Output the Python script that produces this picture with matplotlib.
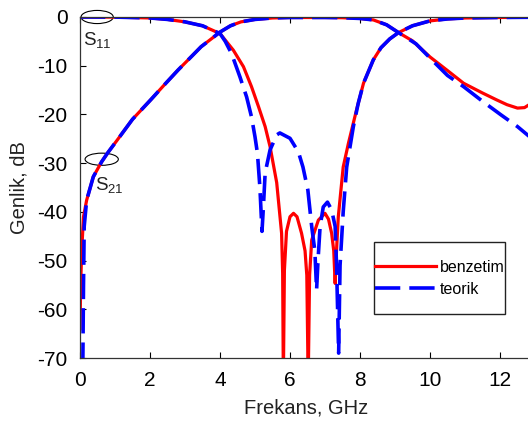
import matplotlib
matplotlib.use('Agg')
import matplotlib.pyplot as plt
from matplotlib.patches import Ellipse, Rectangle

plt.rcParams['font.family'] = ['Liberation Sans', 'DejaVu Sans']
plt.rcParams['mathtext.fontset'] = 'custom'
plt.rcParams['mathtext.rm'] = 'Liberation Sans'
plt.rcParams['axes.unicode_minus'] = False

# S11, benzetim (simulation)
s11_sim_f = [0, 1, 2, 2.5, 3.0, 3.5, 4.0, 4.38, 4.67, 4.9, 5.1, 5.29, 5.43, 5.62, 5.76,
             5.79, 5.81, 5.84, 5.9, 6.0, 6.1, 6.2, 6.33, 6.43, 6.48, 6.52, 6.56, 6.62, 6.81,
             7.0, 7.1, 7.19, 7.25, 7.29, 7.33, 7.38, 7.52, 7.67, 7.9, 8.1, 8.38, 8.6, 8.85,
             9.1, 9.5, 10.0, 10.5, 11.0, 12.0, 13.0]
s11_sim_db = [0, -0.02, -0.2, -0.5, -1.0, -1.8, -3.4, -6.8, -10.2, -14.3, -18.4, -22.5,
              -26.6, -34, -44.4, -52.6, -75, -52, -44, -41, -40.3, -41, -44.4, -48, -53, -75,
              -53, -45.8, -41.7, -40.3, -41.5, -44.4, -48, -54.7, -47.8, -41, -30.8, -25.9,
              -19.1, -13.6, -8.8, -6.3, -4.5, -3.2, -1.8, -0.8, -0.4, -0.2, -0.1, -0.05]

# S21, benzetim
s21_sim_f = [0, 0.02, 0.05, 0.1, 0.19, 0.38, 0.62, 0.8, 1.06, 1.5, 2.02, 2.4, 2.8, 3.2,
             3.46, 3.75, 4.0, 4.3, 4.6, 5.0, 5.5, 6.0, 7.0, 7.5, 8.0, 8.38, 8.76, 9.1, 9.5,
             10.0, 10.5, 10.96, 11.5, 11.9, 12.2, 12.5, 12.7, 12.9, 13.0]
s21_sim_db = [-64, -54.6, -47.8, -41, -37.6, -32.8, -29.7, -27.8, -25.3, -21, -17, -14,
              -10.9, -8, -6.1, -4.5, -3.1, -1.8, -1.0, -0.5, -0.2, -0.1, -0.1, -0.15, -0.3,
              -0.6, -1.6, -3.2, -4.9, -8.2, -11, -13.6, -15.6, -17, -18, -18.7, -18.6, -17.7,
              -17]

# S11, teorik (theory)
s11_th_f = [0, 1, 2, 2.5, 3.0, 3.5, 4.0, 4.15, 4.33, 4.57, 4.76, 4.9, 5.0, 5.07, 5.14, 5.2,
            5.24, 5.29, 5.43, 5.62, 5.71, 6.0, 6.24, 6.37, 6.51, 6.62, 6.71, 6.76, 6.8, 6.86,
            6.95, 7.07, 7.19, 7.29, 7.33, 7.39, 7.43, 7.52, 7.62, 7.81, 7.95, 8.1, 8.38,
            8.6, 8.85, 9.1, 9.5, 10.0, 10.5, 11.0, 12.0, 13.0]
s11_th_db = [0, -0.02, -0.2, -0.5, -1.0, -1.8, -3.4, -5, -7.5, -12.3, -16.4, -20.5, -24.6,
             -28, -35, -44, -39, -32, -27.3, -24.2, -23.8, -24.9, -27.7, -30.8, -35.5, -43,
             -48, -56, -50, -43, -39, -38, -39.6, -43, -51, -69, -51, -40, -30.8, -22.5,
             -17.7, -13.6, -8.8, -6.3, -4.5, -3.2, -1.8, -0.8, -0.4, -0.2, -0.1, -0.05]

# S21, teorik
s21_th_f = [0.08, 0.1, 0.12, 0.19, 0.38, 0.62, 0.8, 1.06, 1.5, 2.02, 2.4, 2.8, 3.2, 3.46,
            3.75, 4.0, 4.3, 4.6, 5.0, 5.5, 6.0, 7.0, 7.5, 8.0, 8.38, 8.76, 9.1, 9.6, 10.15,
            10.5, 10.96, 11.5, 12.03, 12.5, 12.9, 13.0]
s21_th_db = [-72, -55, -43, -37.6, -32.8, -29.7, -27.8, -25.3, -21, -17, -14, -10.9, -8,
             -6.1, -4.5, -3.1, -1.8, -1.0, -0.5, -0.2, -0.1, -0.1, -0.15, -0.3, -0.6, -1.6,
             -3.2, -5.5, -9.5, -12, -14.3, -17.3, -20.1, -22.5, -24.9, -25.3]

fig = plt.figure(figsize=(5.28, 4.21), dpi=100)
ax = fig.add_axes([80 / 528, 63 / 421, 448 / 528, 341 / 421])

red = '#ff0000'
blue = '#0000ff'
lw = 2.3
ax.plot(s11_sim_f, s11_sim_db, color=red, lw=lw, label='benzetim')
ax.plot(s21_sim_f, s21_sim_db, color=red, lw=lw)
ax.plot(s11_th_f, s11_th_db, color=blue, lw=lw + 0.3, dashes=(7, 2.5), label='teorik')
ax.plot(s21_th_f, s21_th_db, color=blue, lw=lw + 0.3, dashes=(7, 2.5))

ax.set_xlim(0, 12.8)
ax.set_ylim(-70, 0)
ax.set_xticks([0, 2, 4, 6, 8, 10, 12])
ax.set_yticks([0, -10, -20, -30, -40, -50, -60, -70])
ax.tick_params(direction='in', top=True, right=False, length=4, width=0.8,
               labelsize=15, pad=9)
ax.spines['right'].set_visible(False)
for s in ['left', 'bottom', 'top']:
    ax.spines[s].set_color('#333333')
    ax.spines[s].set_linewidth(0.9)

ax.set_xlabel('Frekans, GHz', fontsize=14.5, color='#222222')
ax.xaxis.set_label_coords(0.504, -0.12)
ax.set_ylabel('Genlik, dB', fontsize=14.5, color='#222222')
ax.yaxis.set_label_coords(-0.116, 0.5)

# S11 / S21 markers
ax.add_patch(Ellipse((0.49, 0), 0.92, 2.7, fill=False, ec='black', lw=0.8, clip_on=False))
ax.add_patch(Ellipse((0.62, -29.2), 0.95, 2.5, fill=False, ec='black', lw=0.8))
ax.text(0.09, -5.8, r'S$_{\mathrm{11}}$', fontsize=13.5, color='#222222')
ax.text(0.43, -35.7, r'S$_{\mathrm{21}}$', fontsize=13.5, color='#222222')

# legend with a fixed box, text spills over like the original
ax.add_patch(Rectangle((0.656, 0.129), 0.292, 0.211, transform=ax.transAxes,
                       fill=True, fc='white', ec='#222222', lw=1.0, zorder=4))
leg = ax.legend(loc='upper left', bbox_to_anchor=(0.659, 0.288), frameon=False,
                fontsize=11.5, handlelength=3.8, handletextpad=0.25, borderpad=0,
                borderaxespad=0, labelspacing=0.42)
leg.set_zorder(5)

fig.savefig('out.png', dpi=100)
